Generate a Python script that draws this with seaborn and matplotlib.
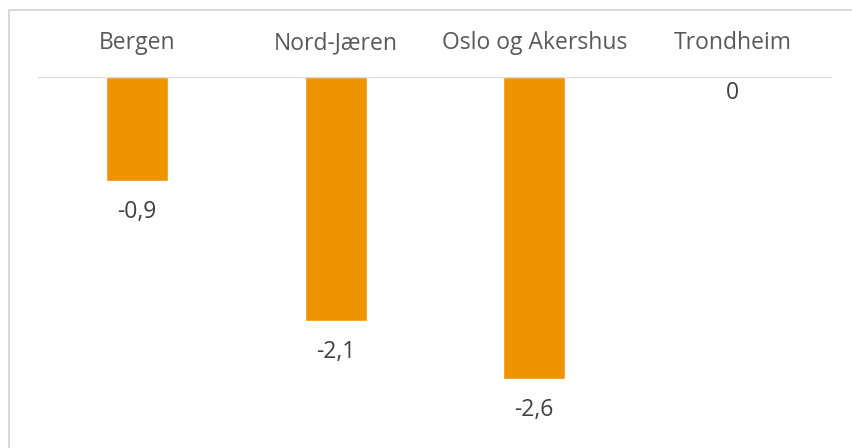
import matplotlib
matplotlib.use("Agg")
import matplotlib.pyplot as plt
import pandas as pd
import seaborn as sns
from matplotlib.lines import Line2D

REGIONS = ['Bergen', 'Nord-Jæren', 'Oslo og Akershus', 'Trondheim']
VALUES = [-0.9, -2.1, -2.6, 0.0]
LABELS = ['-0,9', '-2,1', '-2,6', '0']

BAR_COLOR = '#ED9400'
TEXT_COLOR = '#595959'


def main():
    df = pd.DataFrame({'Region': REGIONS, 'Value': VALUES})

    sns.set_theme(style="white")
    plt.rcParams['font.family'] = ['Open Sans', 'DejaVu Sans']

    fig = plt.figure(figsize=(8.52, 4.48), dpi=100)
    ax = fig.add_axes([38 / 852, 1 - 425 / 448, 794 / 852, 348 / 448])

    sns.barplot(data=df, x='Region', y='Value', color=BAR_COLOR,
                width=0.31, saturation=1, ax=ax)

    ax.set_xlim(-0.5, 3.5)
    ax.set_ylim(-3, 0)
    for s in ax.spines.values():
        s.set_visible(False)
    ax.axhline(0, color='#D9D9D9', lw=1.5, zorder=3)

    ax.set_yticks([])
    ax.set_xlabel('')
    ax.set_ylabel('')
    ax.xaxis.tick_top()
    ax.tick_params(axis='x', length=0, pad=15.5, labelsize=16.5, colors=TEXT_COLOR)

    for i, (v, lab) in enumerate(zip(VALUES, LABELS)):
        # Excel puts the zero label right under the axis
        off = -11.5 if v == 0 else -22.3
        ax.annotate(lab, (i, v), xytext=(0, off), textcoords='offset points',
                    ha='center', va='center', fontsize=16.5, color='#404040')

    # chart area border (only top and left visible in the crop)
    fig.add_artist(Line2D([8.5 / 852, 8.5 / 852], [0, 1 - 10.5 / 448],
                          transform=fig.transFigure, color='#D9D9D9', lw=1.5))
    fig.add_artist(Line2D([8.5 / 852, 1], [1 - 10.5 / 448, 1 - 10.5 / 448],
                          transform=fig.transFigure, color='#D9D9D9', lw=1.5))

    fig.savefig('out.png', dpi=100)


if __name__ == '__main__':
    main()
